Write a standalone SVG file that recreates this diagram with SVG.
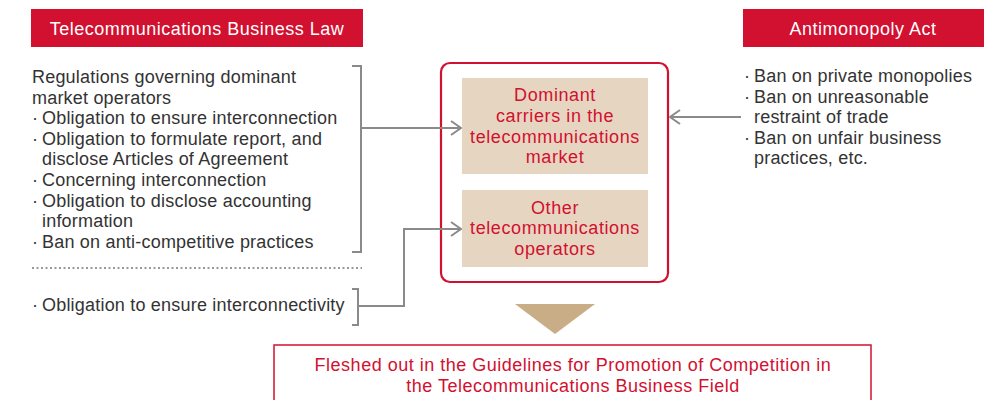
<svg xmlns="http://www.w3.org/2000/svg" width="1002" height="400" viewBox="0 0 1002 400">
<defs>
<style>
.hdr{fill:#d2102f}
.hdrt{font-family:"Liberation Sans",Arial,sans-serif;font-size:18px;letter-spacing:0.5px;fill:#fff;text-anchor:middle}
.body{font-family:"Liberation Sans",Arial,sans-serif;font-size:18px;letter-spacing:0.2px;fill:#333}
.red{font-family:"Liberation Sans",Arial,sans-serif;font-size:18px;letter-spacing:0.6px;fill:#d2102f;text-anchor:middle}
.con{fill:none;stroke:#8a8a8a;stroke-width:2}
.box{fill:#e6d6c1}
</style>
<marker id="arr" viewBox="0 0 12 16" refX="11" refY="8" markerWidth="12" markerHeight="16" markerUnits="userSpaceOnUse" orient="auto">
<path d="M1,1 L11,8 L1,15" fill="none" stroke="#8a8a8a" stroke-width="2"/>
</marker>
</defs>
<rect width="1002" height="400" fill="#fff"/>

<g id="tbl-header">
<rect class="hdr" x="31" y="9" width="332" height="38"/>
<text class="hdrt" x="197" y="35">Telecommunications Business Law</text>
</g>

<g id="ama-header">
<rect class="hdr" x="743" y="9" width="241" height="38"/>
<text class="hdrt" x="863" y="35">Antimonopoly Act</text>
</g>

<g id="dominant-regs">
<text class="body" x="32" y="83">Regulations governing dominant</text>
<text class="body" x="32" y="103.6">market operators</text>
<text class="body" y="124.2"><tspan x="32">·</tspan><tspan x="42">Obligation to ensure interconnection</tspan></text>
<text class="body" y="144.8"><tspan x="32">·</tspan><tspan x="42">Obligation to formulate report, and</tspan></text>
<text class="body" x="42" y="165.4">disclose Articles of Agreement</text>
<text class="body" y="186"><tspan x="32">·</tspan><tspan x="42">Concerning interconnection</tspan></text>
<text class="body" y="206.6"><tspan x="32">·</tspan><tspan x="42">Obligation to disclose accounting</tspan></text>
<text class="body" x="42" y="227.2">information</text>
<text class="body" y="247.8"><tspan x="32">·</tspan><tspan x="42">Ban on anti-competitive practices</tspan></text>
</g>

<g id="separator">
<line x1="32" y1="268" x2="362" y2="268" stroke="#999" stroke-width="2" stroke-dasharray="2,2.5"/>
</g>

<g id="interconnectivity">
<text class="body" y="311"><tspan x="32">·</tspan><tspan x="42">Obligation to ensure interconnectivity</tspan></text>
</g>

<g id="ama-items">
<text class="body" y="82"><tspan x="744">·</tspan><tspan x="754">Ban on private monopolies</tspan></text>
<text class="body" y="103"><tspan x="744">·</tspan><tspan x="754">Ban on unreasonable</tspan></text>
<text class="body" x="754" y="123">restraint of trade</text>
<text class="body" y="144"><tspan x="744">·</tspan><tspan x="754">Ban on unfair business</tspan></text>
<text class="body" x="754" y="164">practices, etc.</text>
</g>

<g id="frame">
<rect x="441" y="63" width="227" height="219" rx="9" fill="none" stroke="#d2102f" stroke-width="2.2"/>
</g>

<g id="dominant-carriers">
<rect class="box" x="462" y="78" width="186" height="96"/>
<text class="red" x="555" y="101">Dominant</text>
<text class="red" x="555" y="122">carriers in the</text>
<text class="red" x="555" y="143">telecommunications</text>
<text class="red" x="555" y="163">market</text>
</g>

<g id="other-operators">
<rect class="box" x="462" y="190" width="186" height="77"/>
<text class="red" x="555" y="214">Other</text>
<text class="red" x="555" y="234">telecommunications</text>
<text class="red" x="555" y="255">operators</text>
</g>

<g id="guidelines">
<rect x="274" y="345" width="597" height="70" fill="none" stroke="#d2102f" stroke-width="1.5"/>
<text class="red" x="573" y="371" style="letter-spacing:0.5px">Fleshed out in the Guidelines for Promotion of Competition in</text>
<text class="red" x="573" y="392" style="letter-spacing:0.5px">the Telecommunications Business Field</text>
</g>

<g id="connectors">
<path class="con" d="M352,66 H361 V252 H352"/>
<path class="con" d="M361,128 H461" marker-end="url(#arr)"/>
<path class="con" d="M352,289 H358 V325 H352"/>
<path class="con" d="M358,306 H404 V229 H461" marker-end="url(#arr)"/>
<path class="con" d="M741,117 H670" marker-end="url(#arr)"/>
<polygon points="515,304 595,304 555,334" fill="#c9ad86"/>
</g>
</svg>
